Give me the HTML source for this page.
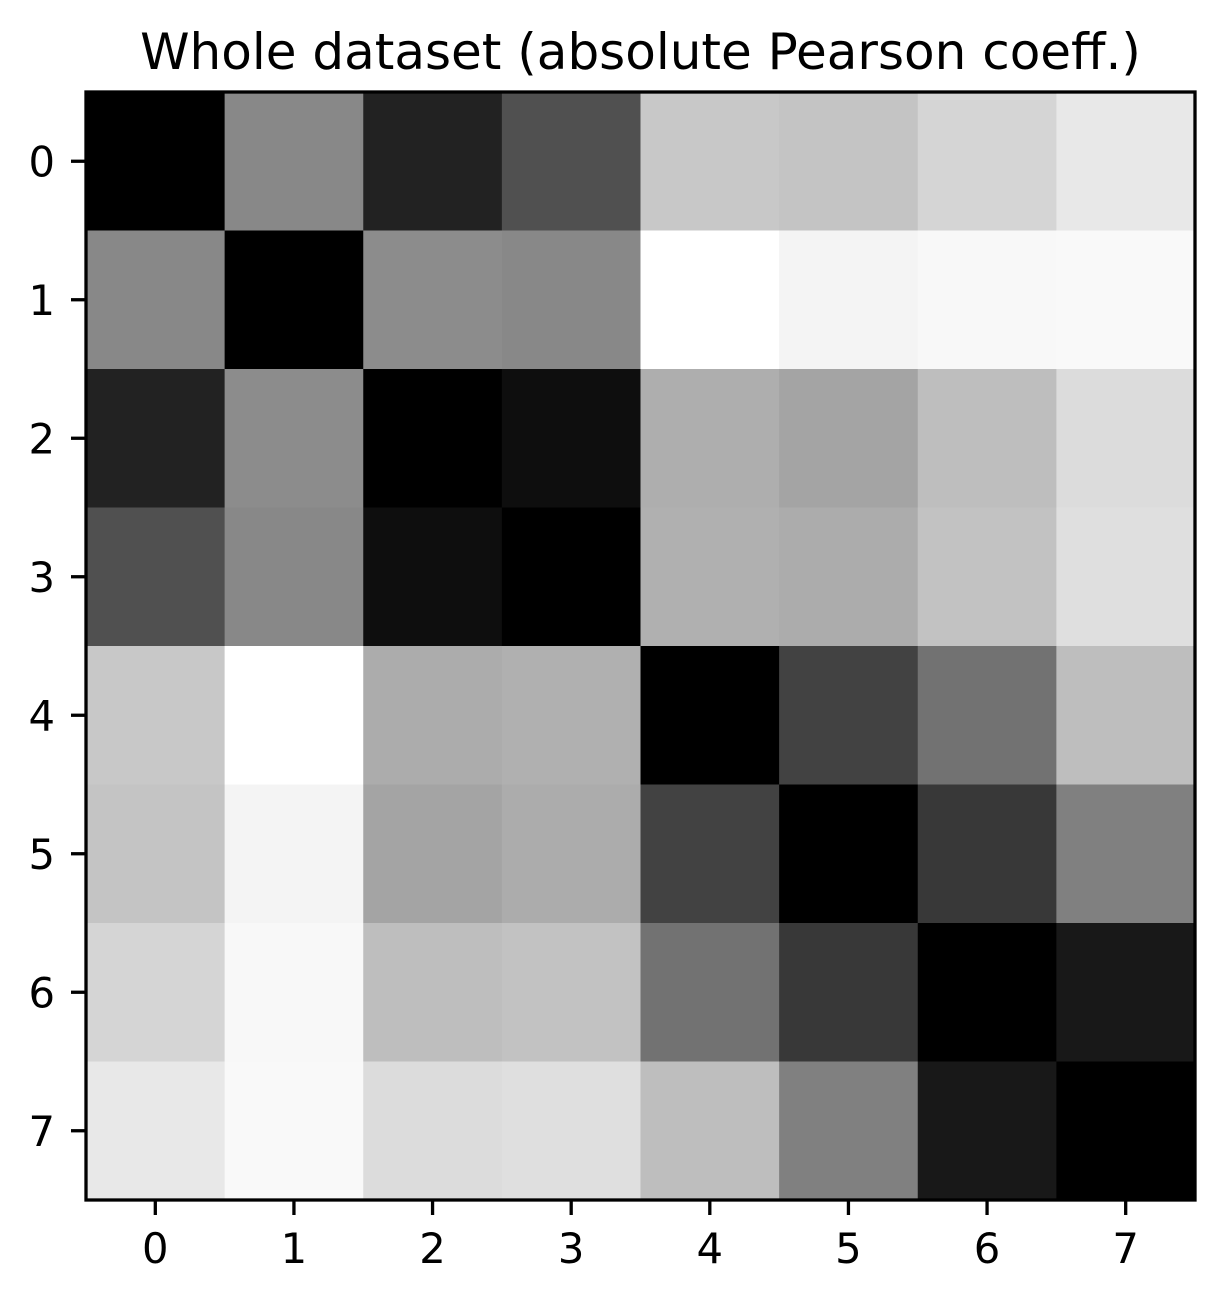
<!DOCTYPE html>
<html><head><meta charset="utf-8"><style>
html,body{margin:0;padding:0;background:#fff;}
svg{display:block;font-family:"DejaVu Sans","Liberation Sans",sans-serif;}
</style></head><body>
<svg id="chart" width="1224" height="1302" viewBox="0 0 1224 1302" xmlns="http://www.w3.org/2000/svg">
<text x="640.5" y="69" text-anchor="middle" font-size="50" fill="#000">Whole dataset (absolute Pearson coeff.)</text>
<g id="cells"></g>
<g id="ticks"></g>
<rect x="86" y="92" width="1109" height="1108" fill="none" stroke="#000" stroke-width="3.3"/>
</svg>
<script>
const labels = ["0","1","2","3","4","5","6","7"];
const row0 = [1.000,0.467,0.867,0.686,0.216,0.231,0.165,0.090];
const row1 = [0.467,1.000,0.451,0.467,0.000,0.043,0.027,0.024];
const row2 = [0.867,0.451,1.000,0.945,0.318,0.357,0.255,0.137];
const row3 = [0.686,0.467,0.945,1.000,0.310,0.325,0.239,0.125];
const row4 = [0.216,0.000,0.325,0.310,1.000,0.741,0.553,0.255];
const row5 = [0.231,0.043,0.357,0.325,0.741,1.000,0.780,0.498];
const row6 = [0.165,0.027,0.255,0.239,0.553,0.780,1.000,0.906];
const row7 = [0.090,0.024,0.137,0.125,0.255,0.498,0.906,1.000];
const matrix = [row0,row1,row2,row3,row4,row5,row6,row7];
const vmin = 0, vmax = 1;

const L=86,R=1195,T=92,B=1200,n=labels.length;
const cw=(R-L)/n, ch=(B-T)/n;
const xs=i=>L+i*cw, ys=j=>T+j*ch;
const NS="http://www.w3.org/2000/svg";
const cells=document.getElementById('cells');
const ticks=document.getElementById('ticks');
function color(v){const t=Math.max(0,Math.min(1,(v-vmin)/(vmax-vmin)));const g=Math.round(255*(1-t));return `rgb(${g},${g},${g})`;}
for(let r=0;r<n;r++){for(let c=0;c<n;c++){
  const el=document.createElementNS(NS,'rect');
  
  
  el.setAttribute('x',xs(c));el.setAttribute('y',ys(r));
  el.setAttribute('width',cw+0.6);el.setAttribute('height',ch+0.6);
  el.setAttribute('fill',color(matrix[r][c]));
  cells.appendChild(el);
}}
for(let i=0;i<n;i++){
  const cx=xs(i)+cw/2, cy=ys(i)+ch/2;
  const tx=document.createElementNS(NS,'line');
  
  
  tx.setAttribute('x1',cx);tx.setAttribute('x2',cx);tx.setAttribute('y1',B);tx.setAttribute('y2',B+15);
  tx.setAttribute('stroke','#000');tx.setAttribute('stroke-width','3.3');
  ticks.appendChild(tx);
  const lx=document.createElementNS(NS,'text');
  
  
  lx.setAttribute('x',cx);lx.setAttribute('y',1263);lx.setAttribute('text-anchor','middle');lx.setAttribute('font-size','41.7');
  lx.textContent=labels[i];ticks.appendChild(lx);
  const ty=document.createElementNS(NS,'line');
  
  
  ty.setAttribute('x1',L-15);ty.setAttribute('x2',L);ty.setAttribute('y1',cy);ty.setAttribute('y2',cy);
  ty.setAttribute('stroke','#000');ty.setAttribute('stroke-width','3.3');
  ticks.appendChild(ty);
  const ly=document.createElementNS(NS,'text');
  
  
  ly.setAttribute('x',55);ly.setAttribute('y',cy+15);ly.setAttribute('text-anchor','end');ly.setAttribute('font-size','41.7');
  ly.textContent=labels[i];ticks.appendChild(ly);
}
</script>
</body></html>
